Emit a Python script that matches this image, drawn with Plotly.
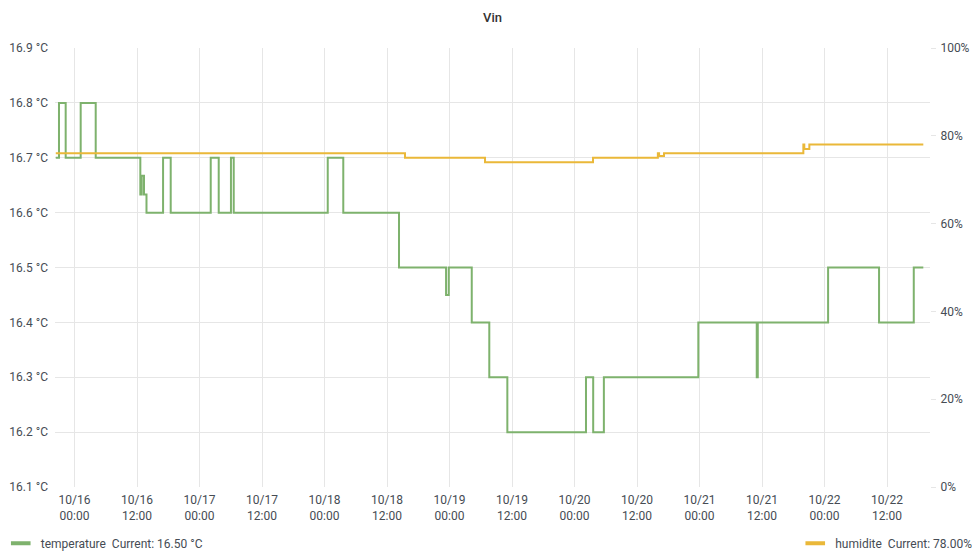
import plotly.graph_objects as go

# ---- data ----
temp_times = [
    "2019-10-15 20:24", "2019-10-15 21:01", "2019-10-15 22:18", "2019-10-16 01:11",
    "2019-10-16 04:04", "2019-10-16 12:38", "2019-10-16 12:54", "2019-10-16 13:20",
    "2019-10-16 13:49", "2019-10-16 17:00", "2019-10-16 18:28", "2019-10-17 02:09",
    "2019-10-17 03:41", "2019-10-17 06:02", "2019-10-17 06:34", "2019-10-18 00:37",
    "2019-10-18 03:36", "2019-10-18 14:18", "2019-10-18 23:20", "2019-10-18 23:51",
    "2019-10-19 04:16", "2019-10-19 07:38", "2019-10-19 11:06", "2019-10-20 02:12",
    "2019-10-20 03:35", "2019-10-20 05:38", "2019-10-20 23:46", "2019-10-21 10:59",
    "2019-10-21 11:11", "2019-10-22 00:41", "2019-10-22 10:28", "2019-10-22 17:08",
    "2019-10-22 18:58",
]
temp_values = [
    16.7, 16.8, 16.7, 16.8,
    16.7, 16.633, 16.667, 16.633,
    16.6, 16.7, 16.6, 16.7,
    16.6, 16.7, 16.6, 16.7,
    16.6, 16.5, 16.45, 16.5,
    16.4, 16.3, 16.2, 16.3,
    16.2, 16.3, 16.4, 16.3,
    16.4, 16.5, 16.4, 16.5,
    16.5,
]

hum_times = [
    "2019-10-15 20:24", "2019-10-18 15:27", "2019-10-19 06:49", "2019-10-20 03:33",
    "2019-10-20 16:00", "2019-10-20 16:14", "2019-10-20 17:11", "2019-10-21 19:56",
    "2019-10-21 20:07", "2019-10-21 21:05", "2019-10-22 18:58",
]
hum_values = [76, 75, 74, 75, 76, 75.4, 76, 78, 77, 78, 78]

x_tick_vals = [
    "2019-10-16 00:00", "2019-10-16 12:00", "2019-10-17 00:00", "2019-10-17 12:00",
    "2019-10-18 00:00", "2019-10-18 12:00", "2019-10-19 00:00", "2019-10-19 12:00",
    "2019-10-20 00:00", "2019-10-20 12:00", "2019-10-21 00:00", "2019-10-21 12:00",
    "2019-10-22 00:00", "2019-10-22 12:00",
]
x_tick_text = [
    "10/16<br>00:00", "10/16<br>12:00", "10/17<br>00:00", "10/17<br>12:00",
    "10/18<br>00:00", "10/18<br>12:00", "10/19<br>00:00", "10/19<br>12:00",
    "10/20<br>00:00", "10/20<br>12:00", "10/21<br>00:00", "10/21<br>12:00",
    "10/22<br>00:00", "10/22<br>12:00",
]
x_range = ["2019-10-15 20:15", "2019-10-22 20:15"]
temp_range = [16.1, 16.9]
hum_ticks = [0, 20, 40, 60, 80, 100]
hum_tick_text = ["0%", "20%", "40%", "60%", "80%", "100%"]

GREEN = "#7EB26D"
YELLOW = "#EAB839"
TXT = "#464c54"
GRID = "#e6e6e6"
FONT = "Roboto"

# page has an 8px body margin; size the figure to fit inside the 980x560 window
W, H = 972, 552

fig = go.Figure()
fig.add_trace(go.Scatter(
    x=temp_times, y=temp_values, mode="lines", line=dict(color=GREEN, width=2, shape="hv"),
    name="temperature", showlegend=False, yaxis="y"))
fig.add_trace(go.Scatter(
    x=hum_times, y=hum_values, mode="lines", line=dict(color=YELLOW, width=2, shape="hv"),
    name="humidite", showlegend=False, yaxis="y2"))

# legend entries
fig.add_trace(go.Scatter(
    x=[None], y=[None], mode="markers",
    marker=dict(symbol="line-ew-open", size=14, color=GREEN, line=dict(color=GREEN, width=4)),
    name=f"temperature\u00a0\u00a0Current: {temp_values[-1]:.2f} °C", legend="legend"))
fig.add_trace(go.Scatter(
    x=[None], y=[None], mode="markers", yaxis="y2",
    marker=dict(symbol="line-ew-open", size=14, color=YELLOW, line=dict(color=YELLOW, width=4)),
    name=f"humidite\u00a0\u00a0Current: {hum_values[-1]:.2f}%", legend="legend2"))

fig.update_layout(
    width=W, height=H,
    margin=dict(l=47, r=50, t=40, b=73, autoexpand=False),
    paper_bgcolor="white", plot_bgcolor="white",
    font=dict(family=FONT, size=12, color=TXT),
    title=dict(text="Vin", x=0.5, xref="paper", y=1 - 9 / H, yref="container",
               xanchor="center", yanchor="middle", pad=dict(t=0, b=0),
               font=dict(family=FONT, size=13, color="#333", weight=500)),
    xaxis=dict(range=x_range, type="date", tickvals=x_tick_vals, ticktext=x_tick_text,
               showgrid=True, gridcolor=GRID, gridwidth=1, zeroline=False, automargin=False,
               showline=False, ticks="", ticklabelstandoff=4, tickfont=dict(size=12, color=TXT)),
    yaxis=dict(range=temp_range, dtick=0.1, tick0=16.1, tickformat=".1f", ticksuffix=" °C",
               showgrid=True, gridcolor=GRID, gridwidth=1, zeroline=False, showline=False,
               automargin=False, ticks="", ticklabelstandoff=6, tickfont=dict(size=12, color=TXT)),
    yaxis2=dict(range=[0, 100], overlaying="y", side="right", tickvals=hum_ticks,
                ticktext=hum_tick_text, showgrid=False, zeroline=False, showline=False,
                automargin=False, ticks="outside", ticklen=5, tickcolor=GRID, ticklabelstandoff=2,
                tickfont=dict(size=12, color=TXT)),
    legend=dict(orientation="h", x=-0.062, xanchor="left", y=-0.128, yanchor="middle",
                font=dict(size=12, color=TXT), itemwidth=30, bgcolor="rgba(0,0,0,0)"),
    legend2=dict(orientation="h", x=1.054, xanchor="right", y=-0.128, yanchor="middle",
                 font=dict(size=12, color=TXT), itemwidth=30, bgcolor="rgba(0,0,0,0)"),
)

fig.write_html("out.html")
